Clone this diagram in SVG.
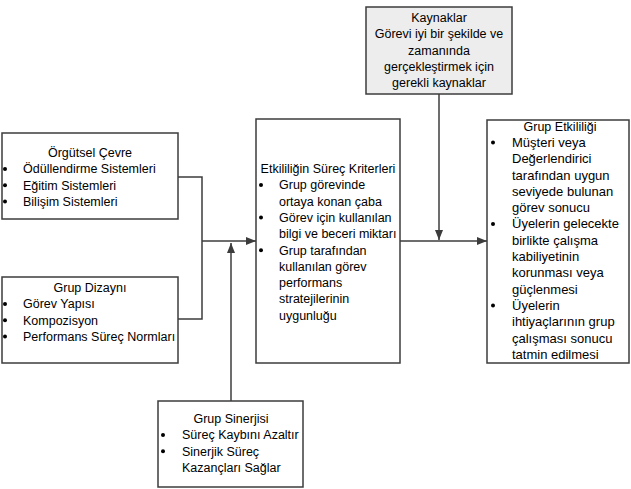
<svg xmlns="http://www.w3.org/2000/svg" width="631" height="489" viewBox="0 0 631 489">
<style>
.box{fill:#ffffff;stroke:#3c3c3c;stroke-width:1.5}
.grey{fill:#ededed}
.t{font-family:"Liberation Sans",Arial,sans-serif;font-size:12.5px;fill:#000}
.r{font-size:13px}
.c{text-anchor:middle}
.b{fill:#000}
.ln{fill:none;stroke:#3c3c3c;stroke-width:1.5}
</style>
<defs>
<marker id="ah" viewBox="0 0 10 8" refX="10" refY="4" markerWidth="10" markerHeight="8" markerUnits="userSpaceOnUse" orient="auto">
<path d="M0,0 L10,4 L0,8 Z" fill="#3c3c3c"/>
</marker>
</defs>
<g id="connectors">
<polyline class="ln" points="178,177 202,177 202,319 178,319"/>
<line class="ln" x1="202" y1="241" x2="256" y2="241" marker-end="url(#ah)"/>
<line class="ln" x1="231" y1="401" x2="231" y2="243" marker-end="url(#ah)"/>
<line class="ln" x1="400" y1="241" x2="487" y2="241" marker-end="url(#ah)"/>
<line class="ln" x1="439" y1="94" x2="439" y2="240" marker-end="url(#ah)"/>
</g>
<g id="orgutsel-cevre">
<rect class="box" x="2" y="133" width="176" height="86"/>
<text class="t c" x="90" y="157">Örgütsel Çevre</text>
<circle class="b" cx="5" cy="169" r="2"/>
<text class="t" x="23" y="173.3">Ödüllendirme Sistemleri</text>
<circle class="b" cx="5" cy="185.3" r="2"/>
<text class="t" x="23" y="189.6">Eğitim Sistemleri</text>
<circle class="b" cx="5" cy="201.6" r="2"/>
<text class="t" x="23" y="205.9">Bilişim Sistemleri</text>
</g>
<g id="grup-dizayni">
<rect class="box" x="2" y="277" width="176" height="86"/>
<text class="t c" x="90" y="292">Grup Dizaynı</text>
<circle class="b" cx="5" cy="304" r="2"/>
<text class="t" x="23" y="308.3">Görev Yapısı</text>
<circle class="b" cx="5" cy="320.3" r="2"/>
<text class="t" x="23" y="324.6">Kompozisyon</text>
<circle class="b" cx="5" cy="336.6" r="2"/>
<text class="t" x="23" y="340.9">Performans Süreç Normları</text>
</g>
<g id="grup-sinerjisi">
<rect class="box" x="158" y="401" width="145" height="86"/>
<text class="t c" x="231" y="423">Grup Sinerjisi</text>
<circle class="b" cx="163" cy="435" r="2"/>
<text class="t" x="182" y="439.3">Süreç Kaybını Azaltır</text>
<circle class="b" cx="163" cy="451.3" r="2"/>
<text class="t" x="182" y="455.6">Sinerjik Süreç</text>
<text class="t" x="182" y="471.9">Kazançları Sağlar</text>
</g>
<g id="surec-kriterleri">
<rect class="box" x="256" y="119" width="144" height="244"/>
<text class="t c" x="328" y="173">Etkililiğin Süreç Kriterleri</text>
<circle class="b" cx="261" cy="185" r="2"/>
<text class="t" x="279" y="189.3">Grup görevinde</text>
<text class="t" x="279" y="205.6">ortaya konan çaba</text>
<circle class="b" cx="261" cy="217.6" r="2"/>
<text class="t" x="279" y="221.9">Görev için kullanılan</text>
<text class="t" x="279" y="238.2">bilgi ve beceri miktarı</text>
<circle class="b" cx="261" cy="250.2" r="2"/>
<text class="t" x="279" y="254.5">Grup tarafından</text>
<text class="t" x="279" y="270.8">kullanılan görev</text>
<text class="t" x="279" y="287.1">performans</text>
<text class="t" x="279" y="303.4">stratejilerinin</text>
<text class="t" x="279" y="319.7">uygunluğu</text>
</g>
<g id="kaynaklar">
<rect class="box grey" x="366" y="7" width="146" height="87"/>
<text class="t c" x="439" y="22">Kaynaklar</text>
<text class="t c" x="439" y="38.3">Görevi iyi bir şekilde ve</text>
<text class="t c" x="439" y="54.6">zamanında</text>
<text class="t c" x="439" y="70.9">gerçekleştirmek için</text>
<text class="t c" x="439" y="87.2">gerekli kaynaklar</text>
</g>
<g id="grup-etkililigi">
<rect class="box" x="487" y="120" width="142" height="243"/>
<text class="t c" x="560" y="130.5">Grup Etkililiği</text>
<circle class="b" cx="493" cy="142.6" r="2"/>
<text class="t r" x="512" y="146.9">Müşteri veya</text>
<text class="t r" x="512" y="163.2">Değerlendirici</text>
<text class="t r" x="512" y="179.5">tarafından uygun</text>
<text class="t r" x="512" y="195.8">seviyede bulunan</text>
<text class="t r" x="512" y="212.1">görev sonucu</text>
<circle class="b" cx="493" cy="224.1" r="2"/>
<text class="t r" x="512" y="228.4">Üyelerin gelecekte</text>
<text class="t r" x="512" y="244.7">birlikte çalışma</text>
<text class="t r" x="512" y="261">kabiliyetinin</text>
<text class="t r" x="512" y="277.3">korunması veya</text>
<text class="t r" x="512" y="293.6">güçlenmesi</text>
<circle class="b" cx="493" cy="305.6" r="2"/>
<text class="t r" x="512" y="309.9">Üyelerin</text>
<text class="t r" x="512" y="326.2">ihtiyaçlarının grup</text>
<text class="t r" x="512" y="342.5">çalışması sonucu</text>
<text class="t r" x="512" y="358.8">tatmin edilmesi</text>
</g>
</svg>
